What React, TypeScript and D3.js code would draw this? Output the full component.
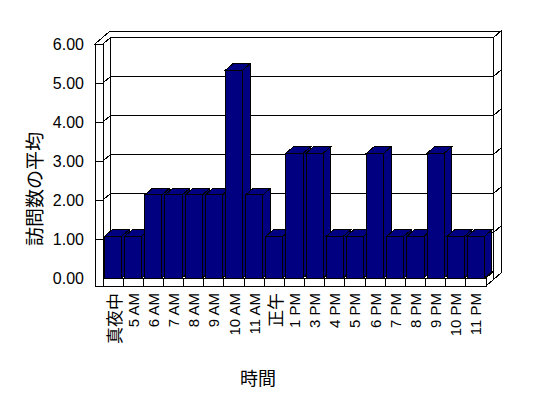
import React from "react";
import * as d3 from "d3";

const categories = ["真夜中", "5 AM", "6 AM", "7 AM", "8 AM", "9 AM", "10 AM", "11 AM", "正午", "1 PM", "3 PM", "4 PM", "5 PM", "6 PM", "7 PM", "8 PM", "9 PM", "10 PM", "11 PM"];
const values = [1.07, 1.07, 2.13, 2.13, 2.13, 2.13, 5.33, 2.13, 1.07, 3.2, 3.2, 1.07, 1.07, 3.2, 1.07, 1.07, 3.2, 1.07, 1.07];
const yTicks = [0, 1, 2, 3, 4, 5, 6];
const yTitle = "訪問数の平均";
const xTitle = "時間";

const W = 548;
const H = 398;
const X0 = 103;
const XR = 486;
const Y0 = 278;
const Y6 = 44;
const WALL = 8;
const FLOOR = 8;
const DX = 7.5;
const DY = 6.5;
const NAVY = "#000080";
const LATIN = "'Liberation Sans', Arial, 'Noto Sans CJK JP', sans-serif";
const CJK = "'Noto Sans CJK JP', 'Liberation Sans', sans-serif";

const p = (x: number, y: number, z: number): [number, number] => [x + z * DX, y - z * DY];
const pts = (arr: [number, number][]) => arr.map((a) => a.join(",")).join(" ");
const hasCJK = (s: string) => /[\u3000-\u9fff]/.test(s);

export default function App() {
  const y = d3.scaleLinear().domain([0, 6]).range([Y0, Y6]);
  const xb = d3.scaleBand<string>().domain(categories).range([X0, XR]).paddingInner(0.15).paddingOuter(0.075);
  const xc = d3.scaleBand<string>().domain(categories).range([X0, XR]);
  const XL = X0 - WALL;
  const YF = Y0 + FLOOR;
  const line = { stroke: "#000", strokeWidth: 1, fill: "none" };
  const face = { stroke: "#000", strokeWidth: 1, fill: "#fff" };

  return (
    <svg width={W} height={H} style={{ position: "fixed", left: 0, top: 0, background: "#fff" }} shapeRendering="crispEdges">
      <polygon points={pts([p(X0, YF, 1), p(XR, YF, 1), p(XR, Y6, 1), p(X0, Y6, 1)])} {...face} />
      <polygon points={pts([p(XR, YF, 1), p(XR, Y6, 1), p(XR, Y6, 2), p(XR, YF, 2)])} {...face} />
      {yTicks.filter((t) => t > 0 && t < 6).map((t) => (
        <polyline key={t} points={pts([p(X0, y(t), 1), p(XR, y(t), 1), p(XR, y(t), 2)])} {...line} />
      ))}
      <polygon points={pts([p(X0, Y0, 0), p(XR, Y0, 0), p(XR, Y0, 1), p(X0, Y0, 1)])} {...face} />
      <polygon points={pts([p(XR, Y0, 0), p(XR, Y0, 1), p(XR, YF, 1), p(XR, YF, 0)])} {...face} />
      <polygon points={pts([p(X0, Y0, 0), p(XR, Y0, 0), p(XR, YF, 0), p(X0, YF, 0)])} {...face} />
      {categories.slice(1).map((c) => (
        <line key={c} x1={xc(c)!} x2={xc(c)!} y1={Y0} y2={YF} {...line} />
      ))}
      <polygon points={pts([p(X0, Y0, 0), p(X0, Y6, 0), p(X0, Y6, 1), p(X0, Y0, 1)])} {...face} />
      <polygon points={pts([p(XL, YF, 0), p(X0, YF, 0), p(X0, Y6, 0), p(XL, Y6, 0)])} {...face} />
      {yTicks.filter((t) => t > 0 && t < 6).map((t) => (
        <polyline key={"lt" + t} points={pts([p(XL, y(t), 0), p(X0, y(t), 0), p(X0, y(t), 1)])} {...line} />
      ))}
      <polygon points={pts([p(XL, Y6, 0), p(X0, Y6, 0), p(X0, Y6, 1), p(XR, Y6, 1), p(XR, Y6, 2), p(XL, Y6, 2)])} {...face} />
      {categories.map((c, i) => {
        const a = xb(c)!;
        const b = a + xb.bandwidth();
        const v = y(values[i]);
        return (
          <g key={c} fill={NAVY} stroke="#000" strokeWidth={1}>
            <polygon points={pts([p(b, Y0, 0), p(b, Y0, 1), p(b, v, 1), p(b, v, 0)])} />
            <polygon points={pts([p(a, v, 0), p(b, v, 0), p(b, v, 1), p(a, v, 1)])} />
            <polygon points={pts([p(a, Y0, 0), p(b, Y0, 0), p(b, v, 0), p(a, v, 0)])} />
          </g>
        );
      })}
      <g shapeRendering="auto">
        {yTicks.map((t) => (
          <text key={"yl" + t} x={84} y={y(t)} textAnchor="end" dominantBaseline="central" fontFamily={LATIN} fontSize={16} fill="#000">
            {t.toFixed(2)}
          </text>
        ))}
        {categories.map((c) => {
          const cx = xc(c)! + xc.bandwidth() / 2;
          const cjk = hasCJK(c);
          return (
            <text key={"xl" + c} transform={`translate(${cx},293) rotate(-90)`} textAnchor="end" dominantBaseline="central"
              fontFamily={cjk ? CJK : LATIN} fontSize={cjk ? 17 : 15} fill="#000">
              {c}
            </text>
          );
        })}
        <text transform={`translate(33,189) rotate(-90)`} textAnchor="middle" dominantBaseline="central" fontFamily={CJK} fontSize={19} fill="#000">
          {yTitle}
        </text>
        <text x={258} y={377} textAnchor="middle" dominantBaseline="central" fontFamily={CJK} fontSize={18} fill="#000">
          {xTitle}
        </text>
      </g>
    </svg>
  );
}
